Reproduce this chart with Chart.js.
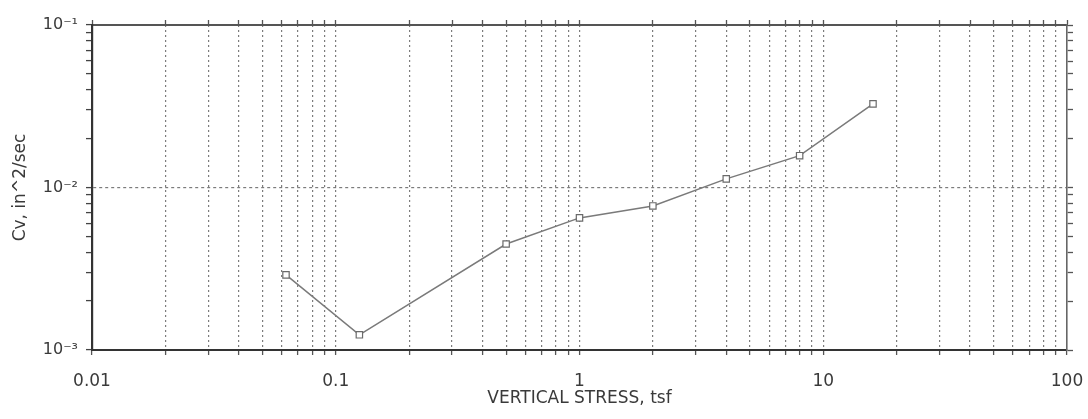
<!DOCTYPE html>
<html>
<head>
<meta charset="utf-8">
<script src="https://cdn.jsdelivr.net/npm/chart.js@4"></script>
<style>
  html, body { margin: 0; background: #fff; }
  #wrap { width: 1088px; height: 419px; }
</style>
</head>
<body>
<div id="wrap"><canvas id="cvChart"></canvas></div>
<script>
// data
const stress = [0.0625, 0.125, 0.5, 1, 2, 4, 8, 16];
const cvValues = [0.0029, 0.00124, 0.00449, 0.0065, 0.0077, 0.0113, 0.0157, 0.0327];

// axis ticks
const xMajor = [0.01, 0.1, 1, 10, 100];
const xLabels = ['0.01', '0.1', '1', '10', '100'];
const yMajor = [0.001, 0.01, 0.1];
const yLabels = ['10⁻³', '10⁻²', '10⁻¹'];
const minorSteps = [1, 2, 3, 4, 5, 6, 7, 8, 9];

const FONT = 'DejaVu Sans';
const GRID = '#7c7c7c';
const TEXT = '#3a3a3a';

function logTicks(majors){
  let t = [];
  for(let i = 0; i < majors.length - 1; i++){
    for(const m of minorSteps) t.push(+(m * majors[i]).toPrecision(3));
  }
  t.push(majors[majors.length - 1]);
  return t;
}
const xTicks = logTicks(xMajor);
const yTicks = logTicks(yMajor);

function findMajor(v, majors){
  return majors.findIndex(m => Math.abs(m - v) / m < 1e-6);
}
function isEdge(v, majors){
  const i = findMajor(v, majors);
  return i === 0 || i === majors.length - 1;
}

const setX = s => { s.ticks = xTicks.map(v => ({value: v})); };
const setY = s => { s.ticks = yTicks.map(v => ({value: v})); };
// fixed box sizes, no label overhang padding
const fitH = h => s => { s.height = h; s.paddingLeft = 0; s.paddingRight = 0; };
const fitW = w => s => { s.width = w; s.paddingTop = 0; s.paddingBottom = 0; };

const ctx = document.getElementById('cvChart').getContext('2d');
const chart = new Chart(ctx, {
  type: 'scatter',
  data: {
    datasets: [{
      data: stress.map((x, i) => ({x: x, y: cvValues[i]})),
      showLine: true,
      borderColor: '#7a7a7a',
      borderWidth: 1.5,
      pointStyle: 'rect',
      pointRadius: 4.5,
      pointBackgroundColor: '#fff',
      pointBorderColor: '#6a6a6a',
      pointBorderWidth: 1.2
    }]
  },
  options: {
    responsive: true,
    maintainAspectRatio: false,
    animation: false,
    layout: { padding: 0 },
    plugins: { legend: { display: false }, tooltip: { enabled: false } },
    scales: {
      x: {
        type: 'logarithmic', position: 'bottom', min: 0.01, max: 100,
        afterBuildTicks: setX,
        afterFit: fitH(69),
        grid: {
          color: c => (c.tick && isEdge(c.tick.value, xMajor)) ? 'rgba(0,0,0,0)' : GRID,
          lineWidth: 1.2, tickLength: 5, tickColor: '#555', tickWidth: 1.3
        },
        border: { color: '#333', width: 2, dash: [2, 3] },
        ticks: {
          autoSkip: false, maxRotation: 0, padding: 16, color: TEXT,
          font: { family: FONT, size: 17 },
          callback: v => { const i = findMajor(v, xMajor); return i < 0 ? '' : xLabels[i]; }
        },
        title: {
          display: true, text: 'VERTICAL STRESS, tsf', color: TEXT,
          font: { family: FONT, size: 17 }, padding: { top: 0, bottom: 10 }
        }
      },
      x2: {
        type: 'logarithmic', position: 'top', min: 0.01, max: 100,
        afterBuildTicks: setX,
        afterFit: fitH(25),
        grid: { drawOnChartArea: false, tickLength: 5, tickColor: '#555', tickWidth: 1.3 },
        border: { color: '#555', width: 2 },
        ticks: { display: false, autoSkip: false }
      },
      y: {
        type: 'logarithmic', position: 'left', min: 0.001, max: 0.1,
        afterBuildTicks: setY,
        afterFit: fitW(92),
        grid: {
          color: c => (c.tick && findMajor(c.tick.value, yMajor) === 1) ? GRID : 'rgba(0,0,0,0)',
          lineWidth: 1.2, tickLength: 6, tickColor: '#444', tickWidth: 1.3
        },
        border: { color: '#333', width: 2.2, dash: [3, 3] },
        ticks: {
          autoSkip: false, padding: 8, color: TEXT,
          font: { family: FONT, size: 16 },
          callback: v => { const i = findMajor(v, yMajor); return i < 0 ? '' : yLabels[i]; }
        },
        title: {
          display: true, text: 'Cv, in^2/sec', color: TEXT,
          font: { family: FONT, size: 17 }, padding: { top: 10, bottom: 8 }
        }
      },
      y2: {
        type: 'logarithmic', position: 'right', min: 0.001, max: 0.1,
        afterBuildTicks: setY,
        afterFit: fitW(21),
        grid: { drawOnChartArea: false, tickLength: 6, tickColor: '#555', tickWidth: 1.3 },
        border: { color: '#666', width: 1.6 },
        ticks: { display: false, autoSkip: false }
      }
    }
  }
});
</script>
</body>
</html>
